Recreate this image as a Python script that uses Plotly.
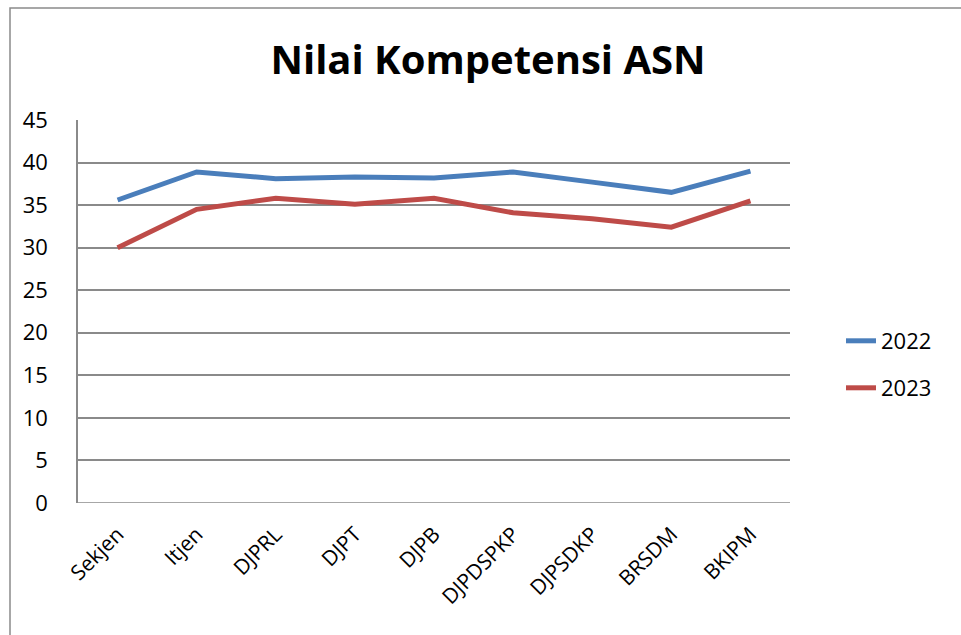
import plotly.graph_objects as go

categories = ["Sekjen", "Itjen", "DJPRL", "DJPT", "DJPB", "DJPDSPKP", "DJPSDKP", "BRSDM", "BKIPM"]
values_2022 = [35.6, 38.9, 38.1, 38.3, 38.2, 38.9, 37.7, 36.5, 39.0]
values_2023 = [30.0, 34.5, 35.8, 35.1, 35.8, 34.1, 33.4, 32.4, 35.5]
y_ticks = [0, 5, 10, 15, 20, 25, 30, 35, 40, 45]

FONT = "Open Sans"

fig = go.Figure()
fig.add_trace(go.Scatter(x=categories, y=values_2022, mode="lines", name="2022",
                         line=dict(color="#4A7EBB", width=5), legend="legend"))
fig.add_trace(go.Scatter(x=categories, y=values_2023, mode="lines", name="2023",
                         line=dict(color="#BE4B48", width=5), legend="legend2"))

fig.update_layout(
    width=961, height=635,
    margin=dict(l=78, r=171, t=120, b=132),
    paper_bgcolor="white", plot_bgcolor="white",
    title=dict(text="<b>Nilai Kompetensi ASN</b>", x=488/961, xanchor="center",
               y=1-60/635, yanchor="middle",
               font=dict(family=FONT, size=40, color="black")),
    font=dict(family=FONT, size=22, color="black"),
    xaxis=dict(type="category", range=[-0.5, 8.5], showgrid=False,
               showline=False, ticks="", tickangle=-45, ticklabelstandoff=14,
               tickfont=dict(size=21), zeroline=False),
    yaxis=dict(range=[0, 45], tickvals=y_ticks, showgrid=True,
               gridcolor="#8a8a8a", gridwidth=1.5, showline=True,
               linecolor="#8a8a8a", linewidth=1.5, ticks="", ticklen=0,
               ticklabelstandoff=24, zeroline=False, tickfont=dict(size=22)),
    legend=dict(x=(841-78)/712, y=(503-341)/383, xanchor="left", yanchor="middle",
                font=dict(size=22), bgcolor="rgba(0,0,0,0)"),
    legend2=dict(x=(841-78)/712, y=(503-388)/383, xanchor="left", yanchor="middle",
                 font=dict(size=22), bgcolor="rgba(0,0,0,0)"),
    showlegend=True,
)

# bottom line of the plot area (horizontal axis line at 0)
fig.add_shape(type="line", xref="paper", yref="y", x0=0, x1=1, y0=0, y1=0,
              line=dict(color="#8a8a8a", width=1.5))
# outer chart border
fig.add_shape(type="rect", xref="paper", yref="paper",
              x0=(10-78)/712, x1=(1000-78)/712, y0=(503-700)/383, y1=(503-8)/383,
              line=dict(color="#8a8a8a", width=1.5), fillcolor="rgba(0,0,0,0)",
              layer="below")

fig.write_html("out.html", config={"displayModeBar": False},
               post_script="document.body.style.margin='0';document.body.style.overflow='hidden';")
